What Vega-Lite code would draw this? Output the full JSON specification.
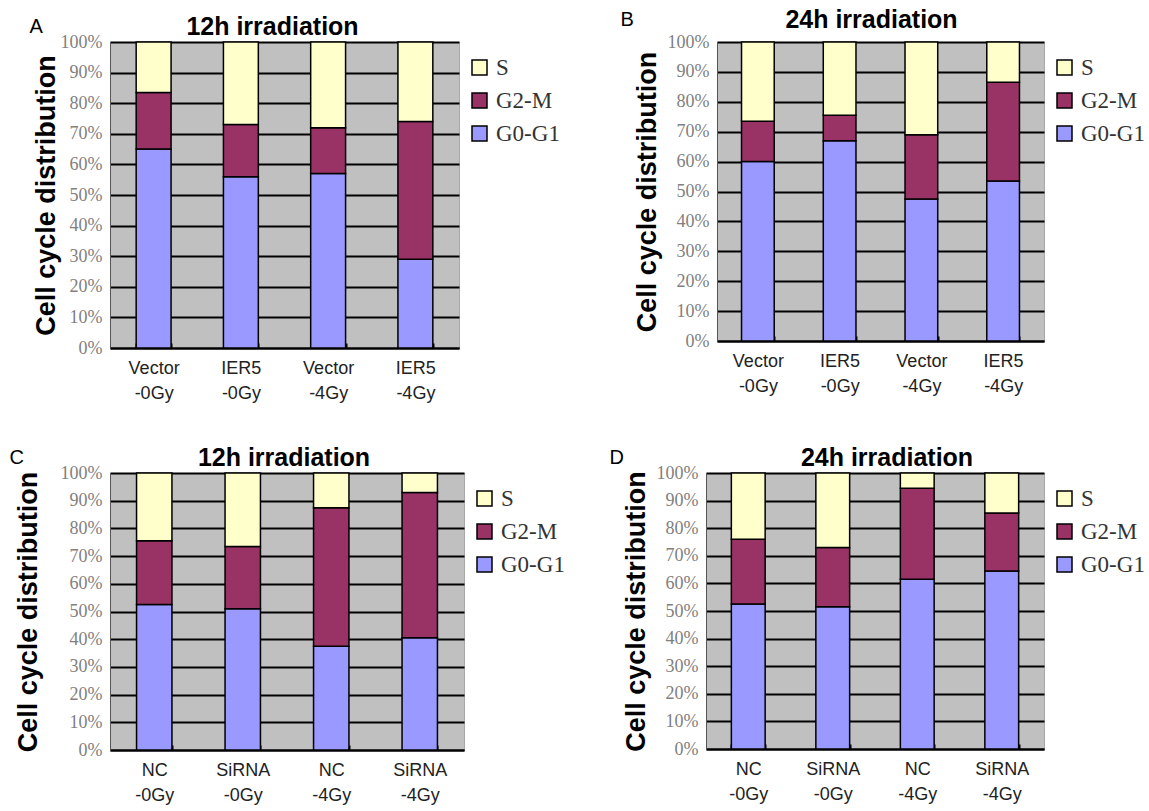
{
  "$schema": "https://vega.github.io/schema/vega-lite/v6.json",
  "background": "white",
  "padding": {"left": 9, "top": 7, "right": 2, "bottom": 2},
  "datasets": {
    "cells": [
      {"panel": "A", "group": "Vector -0Gy", "phase": "G0-G1", "value": 65},
      {"panel": "A", "group": "Vector -0Gy", "phase": "G2-M", "value": 18.5},
      {"panel": "A", "group": "Vector -0Gy", "phase": "S", "value": 16.5},
      {"panel": "A", "group": "IER5 -0Gy", "phase": "G0-G1", "value": 56},
      {"panel": "A", "group": "IER5 -0Gy", "phase": "G2-M", "value": 17},
      {"panel": "A", "group": "IER5 -0Gy", "phase": "S", "value": 27},
      {"panel": "A", "group": "Vector -4Gy", "phase": "G0-G1", "value": 57},
      {"panel": "A", "group": "Vector -4Gy", "phase": "G2-M", "value": 15},
      {"panel": "A", "group": "Vector -4Gy", "phase": "S", "value": 28},
      {"panel": "A", "group": "IER5 -4Gy", "phase": "G0-G1", "value": 29},
      {"panel": "A", "group": "IER5 -4Gy", "phase": "G2-M", "value": 45},
      {"panel": "A", "group": "IER5 -4Gy", "phase": "S", "value": 26},
      {"panel": "B", "group": "Vector -0Gy", "phase": "G0-G1", "value": 60},
      {"panel": "B", "group": "Vector -0Gy", "phase": "G2-M", "value": 13.5},
      {"panel": "B", "group": "Vector -0Gy", "phase": "S", "value": 26.5},
      {"panel": "B", "group": "IER5 -0Gy", "phase": "G0-G1", "value": 67},
      {"panel": "B", "group": "IER5 -0Gy", "phase": "G2-M", "value": 8.5},
      {"panel": "B", "group": "IER5 -0Gy", "phase": "S", "value": 24.5},
      {"panel": "B", "group": "Vector -4Gy", "phase": "G0-G1", "value": 47.5},
      {"panel": "B", "group": "Vector -4Gy", "phase": "G2-M", "value": 21.5},
      {"panel": "B", "group": "Vector -4Gy", "phase": "S", "value": 31},
      {"panel": "B", "group": "IER5 -4Gy", "phase": "G0-G1", "value": 53.5},
      {"panel": "B", "group": "IER5 -4Gy", "phase": "G2-M", "value": 33},
      {"panel": "B", "group": "IER5 -4Gy", "phase": "S", "value": 13.5},
      {"panel": "C", "group": "NC -0Gy", "phase": "G0-G1", "value": 52.5},
      {"panel": "C", "group": "NC -0Gy", "phase": "G2-M", "value": 23},
      {"panel": "C", "group": "NC -0Gy", "phase": "S", "value": 24.5},
      {"panel": "C", "group": "SiRNA -0Gy", "phase": "G0-G1", "value": 51},
      {"panel": "C", "group": "SiRNA -0Gy", "phase": "G2-M", "value": 22.5},
      {"panel": "C", "group": "SiRNA -0Gy", "phase": "S", "value": 26.5},
      {"panel": "C", "group": "NC -4Gy", "phase": "G0-G1", "value": 37.5},
      {"panel": "C", "group": "NC -4Gy", "phase": "G2-M", "value": 50},
      {"panel": "C", "group": "NC -4Gy", "phase": "S", "value": 12.5},
      {"panel": "C", "group": "SiRNA -4Gy", "phase": "G0-G1", "value": 40.5},
      {"panel": "C", "group": "SiRNA -4Gy", "phase": "G2-M", "value": 52.5},
      {"panel": "C", "group": "SiRNA -4Gy", "phase": "S", "value": 7},
      {"panel": "D", "group": "NC -0Gy", "phase": "G0-G1", "value": 52.5},
      {"panel": "D", "group": "NC -0Gy", "phase": "G2-M", "value": 23.5},
      {"panel": "D", "group": "NC -0Gy", "phase": "S", "value": 24},
      {"panel": "D", "group": "SiRNA -0Gy", "phase": "G0-G1", "value": 51.5},
      {"panel": "D", "group": "SiRNA -0Gy", "phase": "G2-M", "value": 21.5},
      {"panel": "D", "group": "SiRNA -0Gy", "phase": "S", "value": 27},
      {"panel": "D", "group": "NC -4Gy", "phase": "G0-G1", "value": 61.5},
      {"panel": "D", "group": "NC -4Gy", "phase": "G2-M", "value": 33},
      {"panel": "D", "group": "NC -4Gy", "phase": "S", "value": 5.5},
      {"panel": "D", "group": "SiRNA -4Gy", "phase": "G0-G1", "value": 64.5},
      {"panel": "D", "group": "SiRNA -4Gy", "phase": "G2-M", "value": 21},
      {"panel": "D", "group": "SiRNA -4Gy", "phase": "S", "value": 14.5}
    ]
  },
  "data": {"name": "cells"},
  "spacing": 42,
  "vconcat": [
    {
      "spacing": 45,
      "resolve": {"legend": {"color": "independent"}},
      "hconcat": [
        {
          "title": {"text": "A", "dx": -2, "offset": -22, "fontSize": 20, "fontWeight": "normal"},
          "resolve": {"legend": {"color": "independent"}},
          "vconcat": [
            {
              "width": 349, "height": 306,
              "title": {"text": "12h irradiation", "dx": -12},
              "transform": [{"filter": "datum.panel === 'A'"}],
              "mark": {"type": "bar", "stroke": "black", "strokeWidth": 1.5},
              "encoding": {
                "x": {"field": "group", "type": "nominal", "sort": null, "scale": {"paddingInner": 0.6, "paddingOuter": 0.3}},
                "y": {"field": "value", "type": "quantitative", "stack": "zero", "scale": {"domain": [0, 100]}, "axis": {"title": "Cell cycle distribution", "titlePadding": 0, "values": [0, 10, 20, 30, 40, 50, 60, 70, 80, 90, 100]}},
                "color": {"field": "phase", "type": "nominal", "scale": {"domain": ["S", "G2-M", "G0-G1"], "range": ["#FFFFCC", "#993366", "#9999FF"]}},
                "order": {"field": "phase", "sort": "ascending"}
              }
            }
          ]
        },
        {
          "title": {"text": "B", "dx": -12, "offset": -22, "fontSize": 20, "fontWeight": "normal"},
          "resolve": {"legend": {"color": "independent"}},
          "vconcat": [
            {
              "width": 327, "height": 299,
              "title": {"text": "24h irradiation", "dx": -9, "offset": 0},
              "transform": [{"filter": "datum.panel === 'B'"}],
              "mark": {"type": "bar", "stroke": "black", "strokeWidth": 1.5},
              "encoding": {
                "x": {"field": "group", "type": "nominal", "sort": null, "scale": {"paddingInner": 0.6, "paddingOuter": 0.3}},
                "y": {"field": "value", "type": "quantitative", "stack": "zero", "scale": {"domain": [0, 100]}, "axis": {"title": "Cell cycle distribution", "values": [0, 10, 20, 30, 40, 50, 60, 70, 80, 90, 100]}},
                "color": {"field": "phase", "type": "nominal", "scale": {"domain": ["S", "G2-M", "G0-G1"], "range": ["#FFFFCC", "#993366", "#9999FF"]}},
                "order": {"field": "phase", "sort": "ascending"}
              }
            }
          ]
        }
      ]
    },
    {
      "spacing": 29,
      "resolve": {"legend": {"color": "independent"}},
      "hconcat": [
        {
          "title": {"text": "C", "dx": -4, "offset": -22, "fontSize": 20, "fontWeight": "normal"},
          "resolve": {"legend": {"color": "independent"}},
          "vconcat": [
            {
              "width": 354, "height": 277,
              "title": {"text": "12h irradiation", "dx": -3},
              "transform": [{"filter": "datum.panel === 'C'"}],
              "mark": {"type": "bar", "stroke": "black", "strokeWidth": 1.5},
              "encoding": {
                "x": {"field": "group", "type": "nominal", "sort": null, "scale": {"paddingInner": 0.6, "paddingOuter": 0.3}},
                "y": {"field": "value", "type": "quantitative", "stack": "zero", "scale": {"domain": [0, 100]}, "axis": {"title": "Cell cycle distribution", "titlePadding": 18, "values": [0, 10, 20, 30, 40, 50, 60, 70, 80, 90, 100]}},
                "color": {"field": "phase", "type": "nominal", "scale": {"domain": ["S", "G2-M", "G0-G1"], "range": ["#FFFFCC", "#993366", "#9999FF"]}},
                "order": {"field": "phase", "sort": "ascending"}
              }
            }
          ]
        },
        {
          "title": {"text": "D", "dx": -12, "offset": -22, "fontSize": 20, "fontWeight": "normal"},
          "resolve": {"legend": {"color": "independent"}},
          "vconcat": [
            {
              "width": 338, "height": 276,
              "title": {"text": "24h irradiation", "dx": 12},
              "transform": [{"filter": "datum.panel === 'D'"}],
              "mark": {"type": "bar", "stroke": "black", "strokeWidth": 1.5},
              "encoding": {
                "x": {"field": "group", "type": "nominal", "sort": null, "scale": {"paddingInner": 0.6, "paddingOuter": 0.3}},
                "y": {"field": "value", "type": "quantitative", "stack": "zero", "scale": {"domain": [0, 100]}, "axis": {"title": "Cell cycle distribution", "values": [0, 10, 20, 30, 40, 50, 60, 70, 80, 90, 100]}},
                "color": {"field": "phase", "type": "nominal", "scale": {"domain": ["S", "G2-M", "G0-G1"], "range": ["#FFFFCC", "#993366", "#9999FF"]}},
                "order": {"field": "phase", "sort": "ascending"}
              }
            }
          ]
        }
      ]
    }
  ],
  "resolve": {"legend": {"color": "independent"}},
  "config": {
    "view": {"fill": "#C0C0C0", "stroke": "#a8a8a8", "strokeWidth": 1},
    "title": {"font": "Liberation Sans", "fontSize": 25, "fontWeight": "bold", "color": "black", "offset": -7},
    "axisX": {
      "title": null, "labelAngle": 0, "labelFont": "Liberation Sans", "labelFontSize": 18, "labelColor": "#222",
      "labelExpr": "split(datum.label, ' ')", "labelPadding": 16, "labelLineHeight": 25, "labelBaseline": "top",
      "domainColor": "black", "domainWidth": 2, "tickBand": "extent", "tickColor": "black", "tickWidth": 2, "tickSize": -5
    },
    "axisY": {
      "labelExpr": "datum.value + '%'", "labelOverlap": false,
      "labelFont": "Liberation Serif", "labelFontSize": 18, "labelColor": "#808080", "labelPadding": 8,
      "grid": true, "gridColor": "black", "gridWidth": 2, "gridOpacity": 1, "ticks": false,
      "domainColor": "#555", "domainWidth": 1,
      "titleFont": "Liberation Sans", "titleFontSize": 27, "titleFontWeight": "bold", "titleColor": "black", "titlePadding": 6
    },
    "legend": {
      "title": null, "orient": "right", "offset": -5, "padding": 14, "symbolType": "square", "symbolSize": 225,
      "symbolStrokeColor": "black", "symbolStrokeWidth": 1.5, "symbolOpacity": 1,
      "labelFont": "Liberation Serif", "labelFontSize": 23, "labelColor": "#333", "rowPadding": 9, "labelOffset": 5
    }
  }
}
